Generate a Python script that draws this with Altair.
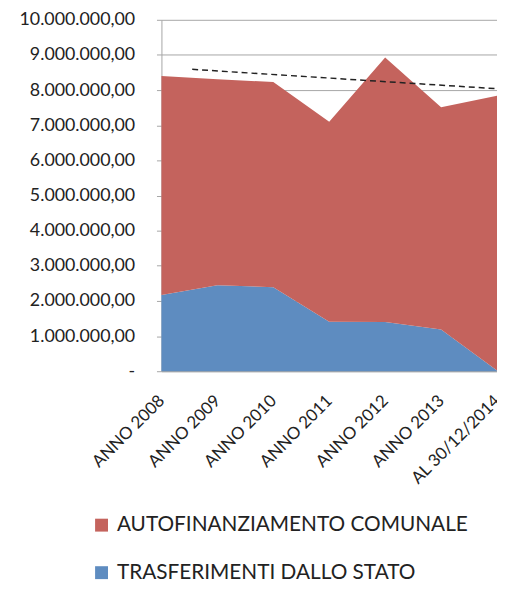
import altair as alt
import pandas as pd

categories = ["ANNO 2008", "ANNO 2009", "ANNO 2010", "ANNO 2011", "ANNO 2012", "ANNO 2013", "AL 30/12/2014"]
trasferimenti = [2170000, 2450000, 2390000, 1410000, 1400000, 1190000, 20000]
autofinanziamento = [6230000, 5860000, 5840000, 5690000, 7530000, 6320000, 7820000]
series_names = ["AUTOFINANZIAMENTO COMUNALE", "TRASFERIMENTI DALLO STATO"]
series_colors = ["#C4635D", "#5E8CC0"]
trend_x = [0.55, 6]
trend_y = [8590000, 8040000]
y_ticks = [0, 1000000, 2000000, 3000000, 4000000, 5000000, 6000000, 7000000, 8000000, 9000000, 10000000]

rows = []
for i, c in enumerate(categories):
    rows.append({"idx": i, "cat": c, "serie": series_names[1], "val": trasferimenti[i], "ord": 0})
    rows.append({"idx": i, "cat": c, "serie": series_names[0], "val": autofinanziamento[i], "ord": 1})
df = pd.DataFrame(rows)
trend = pd.DataFrame({"x": trend_x, "y": trend_y})

font = "Lato"
cat_js = "[" + ",".join("'" + c + "'" for c in categories) + "]"

x_scale = alt.Scale(domain=[0, 6], nice=False, zero=False)
y_scale = alt.Scale(domain=[0, 10000000], nice=False)

x_axis = alt.Axis(
    values=list(range(len(categories))), tickCount=20, labelExpr=cat_js + "[datum.value]",
    labelAngle=-45, labelAlign="right", labelBaseline="middle", labelPadding=27,
    labelOverlap=False, labelFlush=False, labelLimit=0,
    grid=False, ticks=False, title=None, domainColor="#A6A6A6",
    labelFont=font, labelFontSize=17, labelColor="#222222")
y_axis = alt.Axis(
    values=y_ticks, tickCount=30,
    labelExpr="datum.value == 0 ? '-' : replace(replace(replace(format(datum.value, ',.2f'), regexp(',', 'g'), '#'), '.', ','), regexp('#', 'g'), '.')",
    labelOverlap=False, labelFlush=False, labelLimit=0,
    grid=True, gridColor="#A6A6A6", tickColor="#A6A6A6", tickSize=5, domainColor="#A6A6A6",
    labelPadding=22, title=None, labelFont=font, labelFontSize=18, labelColor="#222222")

area = alt.Chart(df).mark_area(opacity=1).encode(
    x=alt.X("idx:Q", scale=x_scale, axis=x_axis),
    y=alt.Y("val:Q", stack="zero", scale=y_scale, axis=y_axis),
    color=alt.Color("serie:N", scale=alt.Scale(domain=series_names, range=series_colors),
                    legend=alt.Legend(title=None, orient="none", legendX=-71, legendY=500,
                                      direction="vertical", symbolType="square", symbolSize=170,
                                      symbolStrokeWidth=0, labelFont=font, labelFontSize=21,
                                      labelLimit=0, labelColor="#222222", rowPadding=26, labelOffset=5)),
    order=alt.Order("ord:Q"),
)

trend_line = alt.Chart(trend).mark_line(color="#222222", strokeDash=[6, 4], strokeWidth=1.5).encode(
    x=alt.X("x:Q", scale=x_scale, axis=x_axis),
    y=alt.Y("y:Q", scale=y_scale, axis=y_axis),
)

chart = alt.layer(area, trend_line).properties(
    width=339, height=355,
    autosize=alt.AutoSizeParams(type="none"),
    padding={"left": 155, "top": 9, "right": 0, "bottom": 210},
).configure_view(stroke=None)

chart.save("out.html", embed_options={"renderer": "svg", "actions": False})
